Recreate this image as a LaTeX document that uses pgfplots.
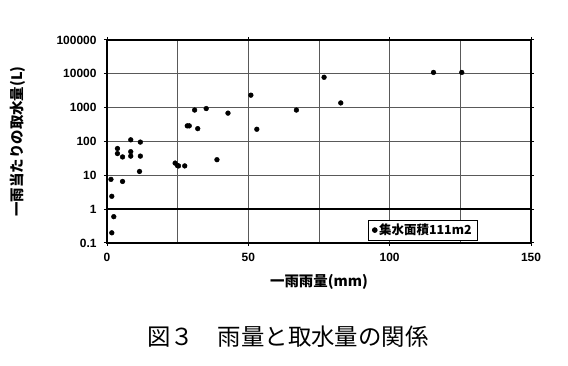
\documentclass[border=0pt]{standalone}
\usepackage{fontspec}
\usepackage{pgfplots}
\pgfplotsset{compat=1.18}
\setmainfont{Liberation Sans}
\newfontfamily\jp{Noto Sans CJK JP}
\begin{document}
\begin{tikzpicture}
\useasboundingbox (0bp,0bp) rectangle (568bp,366bp);
\begin{axis}[
  at={(107bp,123bp)}, anchor=south west,
  scale only axis, width=424bp, height=203bp,
  xmin=0, xmax=150, ymode=log, ymin=0.1, ymax=100000,
  xtick={0,50,100,150}, minor xtick={25,75,125},
  ytick={0.1,1,10,100,1000,10000,100000},
  yticklabels={0.1,1,10,100,1000,10000,100000},
  yminorticks=false,
  grid=major, xminorgrids,
  major grid style={black!65, line width=1bp},
  minor grid style={black!65, line width=1bp},
  axis line style={black, line width=1.1bp},
  tick align=outside, major tick length=3bp, minor tick length=0pt,
  every tick/.style={black, line width=1bp},
  /pgf/number format/assume math mode=true,
  ticklabel style={font=\fontsize{12}{14}\selectfont\bfseries},
  xticklabel style={yshift=-4bp},
  yticklabel style={xshift=-4bp},
  xlabel={\jp\bfseries 一雨雨量(mm)},
  xlabel style={at={(axis description cs:0.5,-0.192)}, anchor=center, font=\fontsize{14.5}{16}\selectfont},
  ylabel={\jp\bfseries 一雨当たりの取水量(L)},
  ylabel style={at={(axis description cs:-0.21,0.5)}, anchor=center, font=\fontsize{14.5}{16}\selectfont},
  legend style={at={(axis description cs:0.875,0.012)}, anchor=south east, draw=black, line width=0.8bp,
    font=\jp\bfseries\fontsize{12.5}{14}\selectfont, inner xsep=4bp, inner ysep=2bp},
  legend cell align=left,
]
\addplot[black, line width=1.8bp, no marks, forget plot] coordinates {(0,1) (150,1)};
\addplot[only marks, mark=*, mark size=2.4bp, black] coordinates {
(1.4,7.6) (1.7,2.4) (2.4,0.6) (1.7,0.2)
(3.7,62) (3.7,44) (5.5,35) (5.5,6.6)
(8.4,112) (8.4,50) (8.4,37)
(11.8,96) (11.8,37) (11.5,13)
(24.1,23) (24.9,19.5) (25.3,19) (27.5,19)
(28.4,290) (29.1,290) (31.0,850) (32.1,240)
(35.1,940) (38.9,29) (42.8,690)
(50.9,2340) (53.0,230) (67.0,850)
(76.8,7900) (82.7,1380)
(115.5,11000) (125.5,11000)
};
\addlegendentry{集水面積111m2}
\end{axis}
\node[font=\jp\fontsize{23.5}{26}\selectfont] at (288bp,29bp) {図３　雨量と取水量の関係};
\end{tikzpicture}
\end{document}
